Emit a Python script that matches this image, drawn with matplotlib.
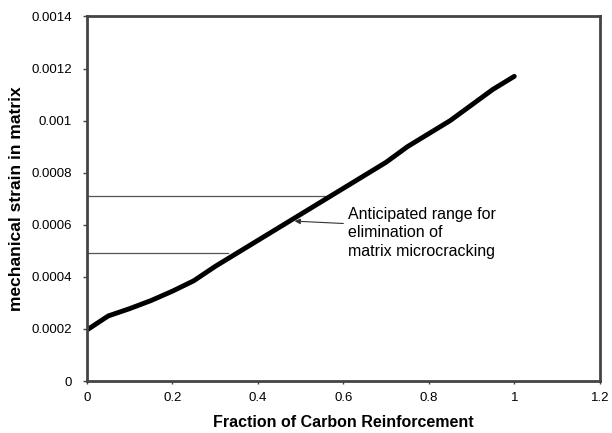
import matplotlib
matplotlib.use("Agg")
import matplotlib.pyplot as plt

plt.rcParams['font.family'] = ['Liberation Sans', 'DejaVu Sans']

# carbon fraction vs mechanical strain in matrix
fraction = [0, 0.05, 0.1, 0.15, 0.2, 0.25, 0.3, 0.35, 0.4, 0.45, 0.5,
            0.55, 0.6, 0.65, 0.7, 0.75, 0.8, 0.85, 0.9, 0.95, 1.0]
strain = [0.000196, 0.00025, 0.000278, 0.000309, 0.000345, 0.000385, 0.00044,
          0.00049, 0.00054, 0.00059, 0.00064, 0.00069, 0.00074, 0.00079,
          0.00084, 0.0009, 0.00095, 0.001, 0.00106, 0.00112, 0.00117]

# anticipated range (horizontal guide lines)
range_low = 0.00049
range_high = 0.000712
range_low_end = 0.33
range_high_end = 0.56

x_ticks = [0, 0.2, 0.4, 0.6, 0.8, 1.0, 1.2]
x_tick_labels = ['0', '0.2', '0.4', '0.6', '0.8', '1', '1.2']
y_ticks = [0, 0.0002, 0.0004, 0.0006, 0.0008, 0.001, 0.0012, 0.0014]
y_tick_labels = ['0', '0.0002', '0.0004', '0.0006', '0.0008', '0.001', '0.0012', '0.0014']

fig = plt.figure(figsize=(6.12, 4.33), dpi=100)
ax = fig.add_axes([0.142, 0.12, 0.838, 0.842])

ax.plot([0, range_high_end], [range_high, range_high], color='#555555', lw=0.9)
ax.plot([0, range_low_end], [range_low, range_low], color='#555555', lw=0.9)
ax.plot(fraction, strain, color='black', lw=3.5, solid_capstyle='round')

# arrow pointing at the curve, text placed separately
ax.annotate('', xy=(0.486, 0.000614), xytext=(0.6, 0.000605),
            arrowprops=dict(arrowstyle='-|>', color='#333333', lw=0.8,
                            mutation_scale=8, shrinkA=0, shrinkB=0))
ax.text(0.612, 0.00067, 'Anticipated range for\nelimination of\nmatrix microcracking',
        fontsize=11.5, linespacing=1.3, ha='left', va='top')

ax.set_xlim(0, 1.2)
ax.set_ylim(0, 0.0014)
ax.set_xticks(x_ticks)
ax.set_xticklabels(x_tick_labels)
ax.set_yticks(y_ticks)
ax.set_yticklabels(y_tick_labels)
ax.tick_params(axis='both', labelsize=9.5, color='#444444')
ax.tick_params(axis='y', length=3, width=1, pad=8)
ax.tick_params(axis='x', length=2, width=1, pad=6)

for s in ax.spines.values():
    s.set_color('#444444')
    s.set_linewidth(2)

ax.set_xlabel('Fraction of Carbon Reinforcement', fontsize=11.5, fontweight='bold', labelpad=8)
ax.set_ylabel('mechanical strain in matrix', fontsize=12.5, fontweight='bold', labelpad=5)

plt.savefig('out.png', dpi=100)
